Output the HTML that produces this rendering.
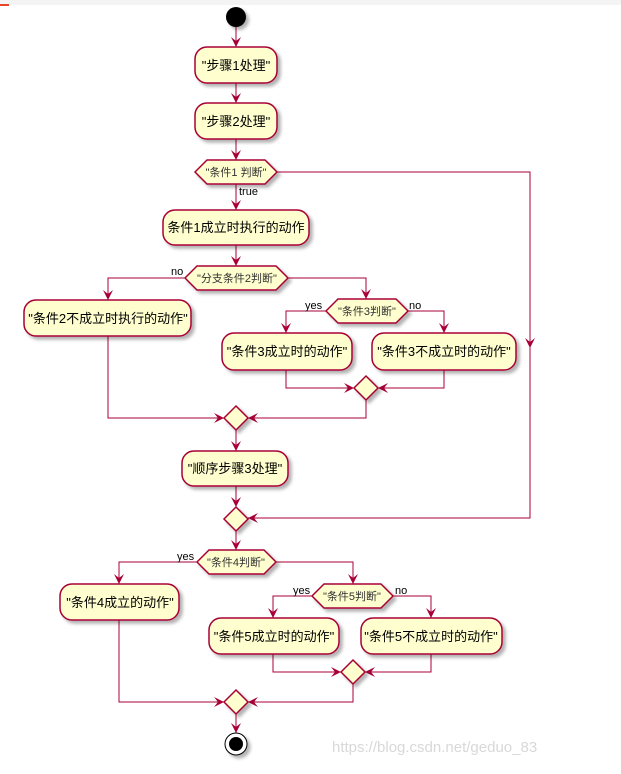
<!DOCTYPE html>
<html><head><meta charset="utf-8"><style>
html,body{margin:0;padding:0;background:#fff;width:621px;height:774px;overflow:hidden}
svg{display:block}
.b{fill:#FEFECE;stroke:#A80036;stroke-width:1.5}
.l{stroke:#A80036;stroke-width:1;fill:none}
.a{fill:#A80036}
.t{font-family:"Liberation Sans","Noto Sans CJK SC",sans-serif;font-size:13px;fill:#000;text-anchor:middle}
.h{font-family:"Liberation Sans","Noto Sans CJK SC",sans-serif;font-size:11px;fill:#333;text-anchor:middle}
.s{font-family:"Liberation Sans",sans-serif;font-size:11px;fill:#000}
</style></head><body>
<svg width="621" height="774" viewBox="0 0 621 774" xmlns="http://www.w3.org/2000/svg">
<defs>
<filter id="sh" x="-20%" y="-20%" width="150%" height="160%"><feDropShadow dx="3" dy="3" stdDeviation="1.5" flood-color="#000" flood-opacity="0.3"/></filter>
<marker id="ar" markerWidth="10" markerHeight="10" refX="5" refY="9" orient="auto" markerUnits="userSpaceOnUse"></marker>
</defs>
<rect x="0" y="0" width="621" height="5" fill="#f4f4f4"/>
<rect x="0" y="4" width="9" height="2" fill="#e8452c"/>

<!-- lines -->
<g class="l">
<path d="M236 27V47M236 83V103M236 139V160M236 184V210M236 245V266"/>
<path d="M277 172H530V518H248"/>
<path d="M185 278H108V300M108 336V418H224"/>
<path d="M288 278H366V299M326 311H286V333M408 311H444V333"/>
<path d="M286 370V388H354M444 370V388H378M366 400V418H248"/>
<path d="M236 430V451M236 486V507M236 531V550"/>
<path d="M197 562H119V584M119 620V702H224"/>
<path d="M276 562H353V584M312 596H273V618M393 596H431V618"/>
<path d="M273 654V672H341M431 654V672H365M353 684V702H248"/>
<path d="M236 714V733"/>
</g>
<!-- arrowheads (down) -->
<g class="a">
<path d="M231 37L236 47L241 37L236 41Z"/>
<path d="M231 93L236 103L241 93L236 97Z"/>
<path d="M231 150L236 160L241 150L236 154Z"/>
<path d="M231 200L236 210L241 200L236 204Z"/>
<path d="M231 256L236 266L241 256L236 260Z"/>
<path d="M525 338L530 348L535 338L530 342Z"/>
<path d="M103 290L108 300L113 290L108 294Z"/>
<path d="M361 289L366 299L371 289L366 293Z"/>
<path d="M281 323L286 333L291 323L286 327Z"/>
<path d="M439 323L444 333L449 323L444 327Z"/>
<path d="M231 441L236 451L241 441L236 445Z"/>
<path d="M231 497L236 507L241 497L236 501Z"/>
<path d="M231 540L236 550L241 540L236 544Z"/>
<path d="M114 574L119 584L124 574L119 578Z"/>
<path d="M348 574L353 584L358 574L353 578Z"/>
<path d="M268 608L273 618L278 608L273 612Z"/>
<path d="M426 608L431 618L436 608L431 612Z"/>
<path d="M231 723L236 733L241 723L236 727Z"/>
<!-- right-pointing -->
<path d="M344 383L354 388L344 393L348 388Z"/>
<path d="M214 413L224 418L214 423L218 418Z"/>
<path d="M331 667L341 672L331 677L335 672Z"/>
<path d="M214 697L224 702L214 707L218 702Z"/>
<!-- left-pointing -->
<path d="M388 383L378 388L388 393L384 388Z"/>
<path d="M258 413L248 418L258 423L254 418Z"/>
<path d="M258 513L248 518L258 523L254 518Z"/>
<path d="M375 667L365 672L375 677L371 672Z"/>
<path d="M258 697L248 702L258 707L254 702Z"/>
</g>

<g filter="url(#sh)">
<circle cx="236" cy="17" r="10" fill="#000"/>
<rect class="b" x="195" y="47" width="82" height="36" rx="12"/>
<rect class="b" x="195" y="103" width="82" height="36" rx="12"/>
<polygon class="b" points="195,172 207,160 265,160 277,172 265,184 207,184"/>
<rect class="b" x="163" y="210" width="146" height="35" rx="12"/>
<polygon class="b" points="185,278 197,266 276,266 288,278 276,290 197,290"/>
<rect class="b" x="24" y="300" width="167" height="36" rx="12"/>
<polygon class="b" points="326,311 338,299 396,299 408,311 396,323 338,323"/>
<rect class="b" x="222" y="333" width="130" height="37" rx="12"/>
<rect class="b" x="372" y="333" width="144" height="37" rx="12"/>
<polygon class="b" points="366,376 378,388 366,400 354,388"/>
<polygon class="b" points="236,406 248,418 236,430 224,418"/>
<rect class="b" x="182" y="451" width="106" height="35" rx="12"/>
<polygon class="b" points="236,507 248,519 236,531 224,519"/>
<polygon class="b" points="197,562 209,550 264,550 276,562 264,574 209,574"/>
<rect class="b" x="60" y="584" width="119" height="36" rx="12"/>
<polygon class="b" points="312,596 324,584 381,584 393,596 381,608 324,608"/>
<rect class="b" x="209" y="618" width="130" height="36" rx="12"/>
<rect class="b" x="361" y="618" width="141" height="36" rx="12"/>
<polygon class="b" points="353,660 365,672 353,684 341,672"/>
<polygon class="b" points="236,690 248,702 236,714 224,702"/>
<circle cx="236" cy="744" r="11" fill="#fff" stroke="#000" stroke-width="1"/>
<circle cx="236" cy="744" r="7" fill="#000"/>
</g>

<g class="t">
<text x="236" y="70">"步骤1处理"</text>
<text x="236" y="126">"步骤2处理"</text>
<text x="236" y="232">条件1成立时执行的动作</text>
<text x="108" y="323">"条件2不成立时执行的动作"</text>
<text x="287" y="356">"条件3成立时的动作"</text>
<text x="444" y="356">"条件3不成立时的动作"</text>
<text x="235" y="473">"顺序步骤3处理"</text>
<text x="120" y="607">"条件4成立的动作"</text>
<text x="274" y="641">"条件5成立时的动作"</text>
<text x="431" y="641">"条件5不成立时的动作"</text>
</g>
<g class="h">
<text x="236" y="176">"条件1 判断"</text>
<text x="237" y="282">"分支条件2判断"</text>
<text x="367" y="315">"条件3判断"</text>
<text x="236" y="566">"条件4判断"</text>
<text x="352" y="600">"条件5判断"</text>
</g>
<g class="s">
<text x="239" y="195">true</text>
<text x="171" y="275">no</text>
<text x="305" y="309">yes</text>
<text x="409" y="309">no</text>
<text x="177" y="560">yes</text>
<text x="293" y="594">yes</text>
<text x="395" y="594">no</text>
</g>
<text x="332" y="752" font-family="Liberation Sans,sans-serif" font-size="15" fill="#d8d8d8">https://blog.csdn.net/geduo_83</text>
</svg>
</body></html>
